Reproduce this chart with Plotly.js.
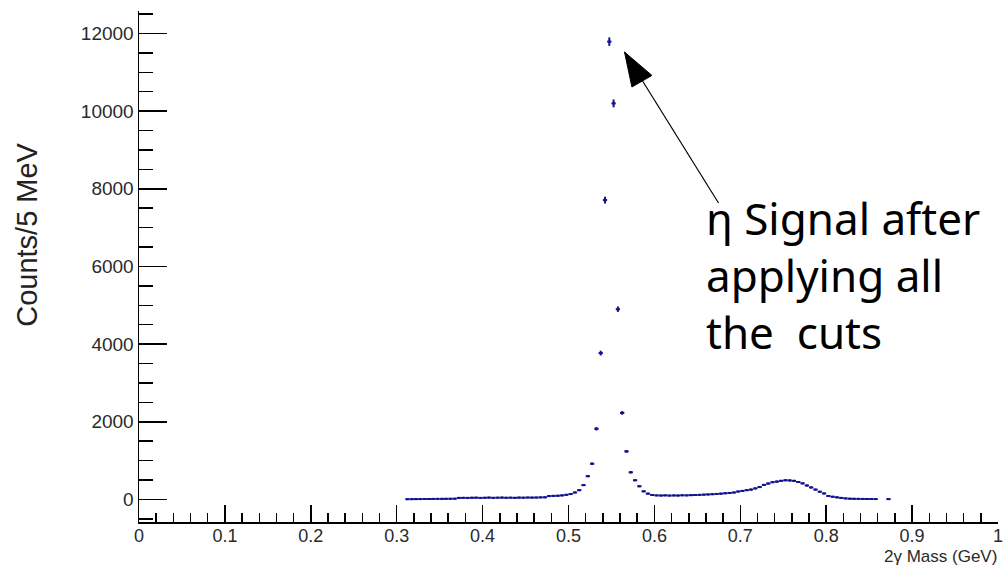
<!DOCTYPE html>
<html>
<head>
<meta charset="utf-8">
<script src="https://cdn.plot.ly/plotly-3.0.1.min.js"></script>
<style>
  html, body { margin: 0; padding: 0; background: #ffffff; }
  #chart { width: 1004px; height: 567px; }
</style>
</head>
<body>
<div id="chart"></div>
<script>
// Two-photon invariant mass, 5 MeV bins (bin centres in GeV)
const binCenters = [
  0.3125, 0.3175, 0.3225, 0.3275, 0.3325, 0.3375, 0.3425, 0.3475, 0.3525, 0.3575,
  0.3625, 0.3675, 0.3725, 0.3775, 0.3825, 0.3875, 0.3925, 0.3975, 0.4025, 0.4075,
  0.4125, 0.4175, 0.4225, 0.4275, 0.4325, 0.4375, 0.4425, 0.4475, 0.4525, 0.4575,
  0.4625, 0.4675, 0.4725, 0.4775, 0.4825, 0.4875, 0.4925, 0.4975, 0.5025, 0.5075,
  0.5125, 0.5175, 0.5225, 0.5275, 0.5325, 0.5375, 0.5425, 0.5475, 0.5525, 0.5575,
  0.5625, 0.5675, 0.5725, 0.5775, 0.5825, 0.5875, 0.5925, 0.5975, 0.6025, 0.6075,
  0.6125, 0.6175, 0.6225, 0.6275, 0.6325, 0.6375, 0.6425, 0.6475, 0.6525, 0.6575,
  0.6625, 0.6675, 0.6725, 0.6775, 0.6825, 0.6875, 0.6925, 0.6975, 0.7025, 0.7075,
  0.7125, 0.7175, 0.7225, 0.7275, 0.7325, 0.7375, 0.7425, 0.7475, 0.7525, 0.7575,
  0.7625, 0.7675, 0.7725, 0.7775, 0.7825, 0.7875, 0.7925, 0.7975, 0.8025, 0.8075,
  0.8125, 0.8175, 0.8225, 0.8275, 0.8325, 0.8375, 0.8425, 0.8475, 0.8525, 0.8575,
  0.8725
];

// Entries per bin
const counts = [
  8, 9, 10, 11, 12, 12, 14, 15, 16, 17,
  18, 20, 40, 42, 40, 44, 46, 40, 44, 48,
  42, 46, 48, 44, 46, 42, 48, 46, 50, 48,
  50, 54, 56, 88, 92, 96, 105, 120, 140, 180,
  240, 370, 600, 920, 1820, 3770, 7710, 11790, 10200, 4900,
  2230, 1240, 700, 495, 340, 210, 150, 115, 105, 102,
  106, 100, 104, 102, 108, 106, 112, 115, 118, 124,
  130, 136, 142, 150, 160, 168, 180, 205, 220, 240,
  255, 285, 320, 375, 410, 445, 460, 480, 495, 490,
  480, 450, 415, 360, 310, 255, 200, 155, 90, 70,
  55, 40, 28, 20, 17, 15, 14, 13, 12, 11,
  10
];

// Statistical uncertainty per bin
const countErrors = [
  3, 3, 3, 3, 3, 3, 4, 4, 4, 4,
  4, 4, 6, 6, 6, 7, 7, 6, 7, 7,
  6, 7, 7, 7, 7, 6, 7, 7, 7, 7,
  7, 7, 7, 9, 10, 10, 10, 11, 12, 13,
  15, 19, 24, 30, 43, 61, 88, 109, 101, 70,
  47, 35, 26, 22, 18, 14, 12, 11, 10, 10,
  10, 10, 10, 10, 10, 10, 11, 11, 11, 11,
  11, 12, 12, 12, 13, 13, 13, 14, 15, 15,
  16, 17, 18, 19, 20, 21, 21, 22, 22, 22,
  22, 21, 20, 19, 18, 16, 14, 12, 9, 8,
  7, 6, 5, 4, 4, 4, 4, 4, 3, 3,
  3
];

const halfBinWidth = 0.0025;

const yTickValues = [0, 2000, 4000, 6000, 8000, 10000, 12000];
const yTickLabels = ['0', '2000', '4000', '6000', '8000', '10000', '12000'];
const xTickValues = [0, 0.1, 0.2, 0.3, 0.4, 0.5, 0.6, 0.7, 0.8, 0.9, 1];
const xTickLabels = ['0', '0.1', '0.2', '0.3', '0.4', '0.5', '0.6', '0.7', '0.8', '0.9', '1'];

const histColor = '#12128f';
const labelFamily = 'Liberation Sans, Arial, sans-serif';

const trace = {
  type: 'scatter',
  mode: 'markers',
  x: binCenters,
  y: counts,
  marker: { color: histColor, size: 2, symbol: 'square' },
  error_y: { type: 'data', array: countErrors, visible: true, color: histColor, thickness: 2, width: 0 },
  error_x: { type: 'constant', value: halfBinWidth, visible: true, color: histColor, thickness: 2, width: 0 },
  hoverinfo: 'x+y'
};

// Tip of the arrow pointing at the peak
const arrowTip = { x: 0.5652, y: 11523 };

const layout = {
  width: 1004,
  height: 567,
  margin: { l: 139, r: 6, t: 11, b: 45 },
  paper_bgcolor: '#ffffff',
  plot_bgcolor: '#ffffff',
  showlegend: false,
  xaxis: {
    range: [0, 1],
    showgrid: false,
    zeroline: false,
    showline: true,
    linecolor: '#000000',
    linewidth: 1.5,
    ticks: 'inside',
    ticklen: 17,
    tickwidth: 1.5,
    tickcolor: '#000000',
    tickvals: xTickValues,
    ticktext: xTickLabels,
    ticklabelstandoff: -3,
    tickfont: { family: labelFamily, size: 18, color: '#2a2a2a' },
    minor: { dtick: 0.02, tick0: 0, ticks: 'inside', ticklen: 9, tickwidth: 1.5, tickcolor: '#000000', showgrid: false }
  },
  yaxis: {
    range: [-580, 12579],
    showgrid: false,
    zeroline: false,
    showline: true,
    linecolor: '#000000',
    linewidth: 1.5,
    ticks: 'inside',
    ticklen: 28,
    tickwidth: 1.5,
    tickcolor: '#000000',
    tickvals: yTickValues,
    ticktext: yTickLabels,
    tickfont: { family: labelFamily, size: 19, color: '#2a2a2a' },
    minor: { dtick: 500, tick0: 0, ticks: 'inside', ticklen: 14, tickwidth: 1.5, tickcolor: '#000000', showgrid: false }
  },
  shapes: [
    {
      type: 'path',
      xref: 'x', yref: 'y',
      xsizemode: 'pixel', ysizemode: 'pixel',
      xanchor: arrowTip.x, yanchor: arrowTip.y,
      path: 'M 0 0 L 94 -151',
      line: { color: '#000000', width: 1.2 }
    },
    {
      type: 'path',
      xref: 'x', yref: 'y',
      xsizemode: 'pixel', ysizemode: 'pixel',
      xanchor: arrowTip.x, yanchor: arrowTip.y,
      path: 'M 0 0 L 27.4 -23.4 L 7.4 -35 Z',
      fillcolor: '#000000',
      line: { color: '#000000', width: 1 }
    }
  ],
  annotations: [
    {
      // y-axis title, placed towards the upper part of the axis
      xref: 'paper', yref: 'paper',
      x: -0.1304, y: 0.562,
      xanchor: 'center', yanchor: 'middle',
      textangle: -90,
      text: 'Counts/5 MeV',
      showarrow: false,
      font: { family: labelFamily, size: 29, color: '#222222' }
    },
    {
      // x-axis title, right-aligned under the axis end
      xref: 'paper', yref: 'paper',
      x: 1, y: -0.088,
      xanchor: 'right', yanchor: 'bottom',
      borderpad: 0,
      text: '2\u03b3 Mass (GeV)',
      showarrow: false,
      font: { family: labelFamily, size: 17, color: '#2a2a2a' }
    },
    {
      xref: 'paper', yref: 'paper',
      x: 0.658, y: 0.658,
      xanchor: 'left', yanchor: 'top',
      align: 'left',
      text: '\u03b7 Signal after<br>applying all<br>the\u00a0 cuts',
      showarrow: false,
      font: { family: 'Noto Sans, Open Sans, sans-serif', size: 44, color: '#000000' }
    }
  ]
};

Plotly.newPlot('chart', [trace], layout, { displayModeBar: false, staticPlot: true });
</script>
</body>
</html>
